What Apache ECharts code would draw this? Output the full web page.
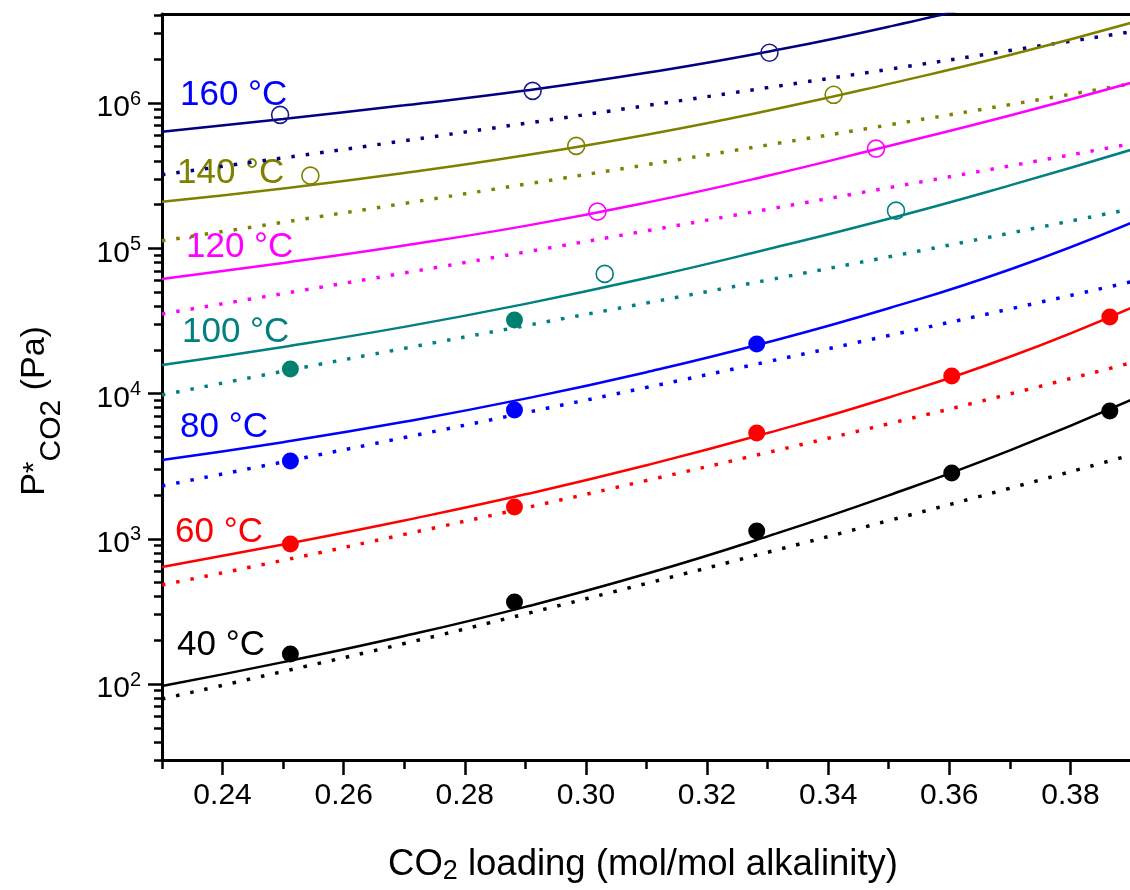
<!DOCTYPE html>
<html>
<head>
<meta charset="utf-8">
<script src="https://cdn.jsdelivr.net/npm/echarts@6/dist/echarts.min.js"></script>
<style>
  html, body { margin: 0; padding: 0; background: #fff; }
  #chart { width: 1130px; height: 890px; }
</style>
</head>
<body>
<div id="chart"></div>
<script>
// loading grid of the model curves (mol/mol alkalinity)
const xModel = [0.23, 0.25, 0.27, 0.29, 0.31, 0.33, 0.35, 0.37, 0.39];

// model curves, P*CO2 in Pa (solid = model 1, dotted = model 2)
const solid40  = [96.8, 141.6, 214, 340, 574, 1040, 1991, 4064, 9036];
const dotted40 = [78.9, 122, 190, 304, 493, 807, 1334, 2228, 3776];
const solid60  = [640, 914, 1337, 2023, 3206, 5346, 9397, 17910, 38900];
const dotted60 = [481, 711, 1072, 1633, 2518, 3926, 6194, 9931, 16260];
const solid80  = [3491, 4624, 6383, 9226, 14030, 22540, 38640, 71450, 149600];
const dotted80 = [2312, 3381, 4977, 7379, 11020, 16560, 25060, 38190, 58750];
const solid100  = [15740, 20940, 28770, 41400, 62370, 98400, 159600, 271000, 476400];
const dotted100 = [9772, 14220, 20460, 29310, 41980, 60390, 87300, 127100, 186600];
const solid120  = [61520, 79250, 104500, 142600, 206100, 315500, 505800, 820400, 1377000];
const dotted120 = [35320, 48750, 67610, 94190, 131800, 185400, 261200, 369000, 523600];
const solid140  = [208900, 258200, 329600, 436500, 605300, 885100, 1355000, 2138000, 3565000];
const dotted140 = [112500, 151000, 203700, 276100, 375800, 514000, 706300, 975000, 1355000];
const solid160  = [633900, 776200, 963900, 1219000, 1614000, 2254000, 3350000, 5370000, 9333000];
const dotted160 = [320600, 418800, 549500, 724400, 959400, 1276000, 1706000, 2296000, 3090000];

// measured points
const exp40x = [0.2512, 0.2882, 0.3282, 0.3604, 0.3865];
const exp40y = [161, 367, 1132, 2839, 7590];
const exp60x = [0.2512, 0.2882, 0.3282, 0.3604, 0.3865];
const exp60y = [921, 1656, 5354, 13220, 33690];
const exp80x = [0.2512, 0.2882, 0.3282];
const exp80y = [3434, 7712, 21960];
const exp100x = [0.2512, 0.2882];
const exp100y = [14770, 32130];
const open100x = [0.3031, 0.3512];
const open100y = [66620, 181500];
const open120x = [0.3019, 0.3479];
const open120y = [178700, 485300];
const open140x = [0.2545, 0.2984, 0.3409];
const open140y = [316200, 507300, 1139000];
const open160x = [0.2495, 0.2912, 0.3303];
const open160y = [829000, 1213000, 2217000];

// ticks
const xMajor = [0.24, 0.26, 0.28, 0.30, 0.32, 0.34, 0.36, 0.38];
const xMinor = [0.23, 0.25, 0.27, 0.29, 0.31, 0.33, 0.35, 0.37, 0.39];
const yMajor = [1e2, 1e3, 1e4, 1e5, 1e6];
const yMin = 30, yMax = 4.1e6;
const yMinor = [];
[10, 100, 1000, 1e4, 1e5, 1e6].forEach(d => {
  for (let k = 2; k <= 9; k++) {
    const v = d * k;
    if (v >= yMin && v <= yMax) yMinor.push(v);
  }
});

const tempLabels = ['160 °C', '140 °C', '120 °C', '100 °C', '80 °C', '60 °C', '40 °C'];
const tempColors = ['#0000ff', '#808000', '#ff00ff', '#008080', '#0000ff', '#ff0000', '#000000'];

const FONT = '"Liberation Sans", Arial, sans-serif';

const curves = [
  { color: '#000000', solid: solid40, dotted: dotted40 },
  { color: '#ff0000', solid: solid60, dotted: dotted60 },
  { color: '#0000ff', solid: solid80, dotted: dotted80 },
  { color: '#008080', solid: solid100, dotted: dotted100 },
  { color: '#ff00ff', solid: solid120, dotted: dotted120 },
  { color: '#808000', solid: solid140, dotted: dotted140 },
  { color: '#000080', solid: solid160, dotted: dotted160 }
];

const pairs = (xs, ys) => xs.map((x, i) => [x, ys[i]]);

const series = [];
curves.forEach(c => {
  series.push({
    type: 'line', data: pairs(xModel, c.dotted), smooth: 0.5, symbol: 'none',
    lineStyle: { color: c.color, width: 3.5, type: [3.5, 11], cap: 'butt' }, clip: true, z: 2
  });
  series.push({
    type: 'line', data: pairs(xModel, c.solid), smooth: 0.5, symbol: 'none',
    lineStyle: { color: c.color, width: 2.5 }, clip: true, z: 3
  });
});

const filled = [
  [exp40x, exp40y, '#000000'],
  [exp60x, exp60y, '#ff0000'],
  [exp80x, exp80y, '#0000ff'],
  [exp100x, exp100y, '#008070']
];
filled.forEach(f => {
  series.push({
    type: 'scatter', data: pairs(f[0], f[1]), symbol: 'circle', symbolSize: 17,
    itemStyle: { color: f[2], opacity: 1 }, z: 5
  });
});

const open = [
  [open100x, open100y, '#008080'],
  [open120x, open120y, '#ff00ff'],
  [open140x, open140y, '#808000'],
  [open160x, open160y, '#1a1a88']
];
open.forEach(f => {
  series.push({
    type: 'scatter', data: pairs(f[0], f[1]), symbol: 'circle', symbolSize: 17,
    itemStyle: { color: 'rgba(0,0,0,0)', borderColor: f[2], borderWidth: 1.6, opacity: 1 }, z: 5
  });
});

// temperature tags
const tagPos = [[180, 95], [177, 173], [186, 247], [182, 332], [180, 427], [175, 532], [177, 645]];
const graphics = tempLabels.map((t, i) => ({
  type: 'text', x: tagPos[i][0], y: tagPos[i][1], silent: true,
  style: { text: t, fill: tempColors[i], font: '35px ' + FONT, align: 'left', verticalAlign: 'middle' }
}));

// axis titles
graphics.push({
  type: 'text', x: 643, y: 864, silent: true,
  style: {
    text: '{m|CO}{sub|2}{m| loading (mol/mol alkalinity)}',
    align: 'center', verticalAlign: 'middle', fill: '#000',
    rich: {
      m: { fontSize: 36.5, lineHeight: 36, verticalAlign: 'top', fontFamily: FONT, fill: '#000' },
      sub: { fontSize: 27, lineHeight: 27, verticalAlign: 'top', padding: [12, 0, 0, 0], fontFamily: FONT, fill: '#000' }
    }
  }
});
graphics.push({
  type: 'text', x: 35, y: 411, rotation: Math.PI / 2, silent: true,
  style: {
    text: '{m|P}{sup|*}{sub|CO2}{m| (Pa)}',
    align: 'center', verticalAlign: 'middle', fill: '#000',
    rich: {
      m: { fontSize: 34, lineHeight: 34, verticalAlign: 'top', fontFamily: FONT, fill: '#000' },
      sup: { fontSize: 30, lineHeight: 30, verticalAlign: 'top', padding: [2, 0, 0, 0], fontFamily: FONT, fill: '#000' },
      sub: { fontSize: 30, lineHeight: 30, verticalAlign: 'top', padding: [19, 0, 0, 0], fontFamily: FONT, fill: '#000' }
    }
  }
});

// y tick labels 10^n
const yLabelStyle = {
  rich: {
    b: { fontSize: 30, lineHeight: 30, verticalAlign: 'top', padding: [4, 0, 0, 0], fontFamily: FONT, fill: '#000' },
    s: { fontSize: 20, lineHeight: 20, verticalAlign: 'top', fontFamily: FONT, fill: '#000' }
  }
};

const chart = echarts.init(document.getElementById('chart'), null, { renderer: 'canvas' });
chart.setOption({
  animation: false,
  backgroundColor: '#fff',
  grid: { left: 162, right: -1, top: 14, bottom: 130, outerBoundsMode: 'none', containLabel: false },
  xAxis: [
    {
      type: 'value', min: 0.23, max: 0.39, position: 'bottom',
      axisLine: { show: true, lineStyle: { color: '#000', width: 3 } },
      axisTick: { show: true, customValues: xMajor, length: 15, lineStyle: { color: '#000', width: 2.5 } },
      axisLabel: {
        customValues: xMajor, margin: 21, fontSize: 30, color: '#000', fontFamily: FONT,
        formatter: v => v.toFixed(2)
      },
      splitLine: { show: false }
    },
    {
      type: 'value', min: 0.23, max: 0.39, position: 'bottom',
      axisLine: { show: false },
      axisTick: { show: true, customValues: xMinor, length: 9, lineStyle: { color: '#000', width: 2.5 } },
      axisLabel: { show: false },
      splitLine: { show: false }
    },
    {
      type: 'value', min: 0.23, max: 0.39, position: 'top',
      axisLine: { show: true, lineStyle: { color: '#000', width: 3 } },
      axisTick: { show: false }, axisLabel: { show: false }, splitLine: { show: false }
    }
  ],
  yAxis: [
    {
      type: 'log', min: yMin, max: yMax, position: 'left',
      axisLine: { show: true, lineStyle: { color: '#000', width: 3 } },
      axisTick: { show: true, customValues: yMajor, length: 14, lineStyle: { color: '#000', width: 2.5 } },
      axisLabel: { show: false },
      splitLine: { show: false }
    },
    {
      type: 'log', min: yMin, max: yMax, position: 'left',
      axisLine: { show: false },
      axisTick: { show: true, customValues: yMinor, length: 8, lineStyle: { color: '#000', width: 2.5 } },
      axisLabel: { show: false },
      splitLine: { show: false }
    }
  ],
  series: series,
  graphic: graphics
});

// place the 10^n labels at the positions given by the y scale
const yLabels = yMajor.map(v => {
  const py = chart.convertToPixel({ yAxisIndex: 0 }, v);
  return {
    type: 'text', x: 141, y: py + 1, silent: true,
    style: Object.assign({
      text: '{b|10}{s|' + Math.round(Math.log10(v)) + '}',
      align: 'right', verticalAlign: 'middle'
    }, yLabelStyle)
  };
});
chart.setOption({ graphic: graphics.concat(yLabels) });
</script>
</body>
</html>
